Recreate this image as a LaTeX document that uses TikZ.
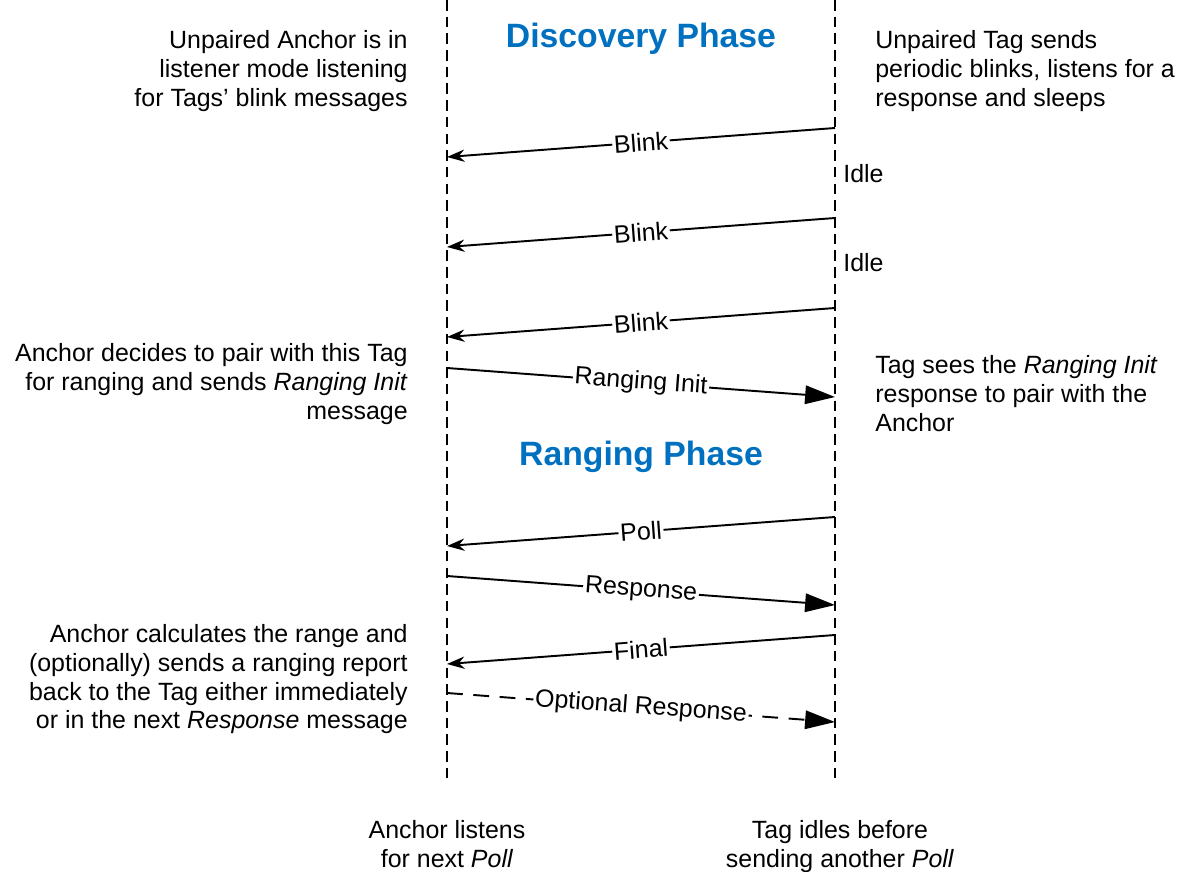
\documentclass[tikz,border=0pt]{standalone}
\usepackage{fontspec}
\setmainfont{Liberation Sans}
\usetikzlibrary{arrows.meta}
\definecolor{phaseblue}{RGB}{0,112,192}

\begin{document}
\begin{tikzpicture}[
  x=0.02cm, y=-0.02cm,
  note/.style={font=\fontsize{14.2}{16.4}\selectfont, inner sep=0pt},
  leftnote/.style={note, align=right, anchor=north east},
  rightnote/.style={note, align=left, anchor=north west},
  phase/.style={font=\fontsize{19.2}{22}\selectfont\bfseries, text=phaseblue},
  lifeline/.style={draw=black, line width=0.6pt, dash pattern=on 6pt off 3.5pt},
  msg/.style={draw=black, line width=1.1pt},
  toanchor/.style={msg, -{Stealth[length=10pt, width=7pt]}},
  totag/.style={msg, -{Triangle[length=17pt, width=10.5pt]}},
  msglabel/.style={note, fill=white, sloped, inner sep=1pt}
]
\useasboundingbox (0,0) rectangle (1187,872);

% --- Lifelines ---
\coordinate (anchortop) at (447,0);
\coordinate (anchorbot) at (447,778);
\coordinate (tagtop) at (835,0);
\coordinate (tagbot) at (835,778);
\draw[lifeline] (anchortop) -- (anchorbot);
\draw[lifeline] (tagtop) -- (tagbot);

% --- Phase titles ---
\node[phase] (discovery) at (641,39) {Discovery Phase};
\node[phase] (ranging) at (641,457) {Ranging Phase};

% --- Side notes ---
\node[leftnote] (anchornote) at (408,30)
  {Unpaired Anchor is in\\listener mode listening\\for Tags’ blink messages};
\node[rightnote] (tagnote) at (875,30)
  {Unpaired Tag sends\\periodic blinks, listens for a\\response and sleeps};
\node[leftnote] (pairnote) at (408,343)
  {Anchor decides to pair with this Tag\\for ranging and sends \textit{Ranging Init}\\message};
\node[rightnote] (seenote) at (875,355)
  {Tag sees the \textit{Ranging Init}\\response to pair with the\\Anchor};
\node[leftnote] (calcnote) at (408,624)
  {Anchor calculates the range and\\(optionally) sends a ranging report\\back to the Tag either immediately\\or in the next \textit{Response} message};

\node[note, anchor=west] (idle1) at (843,174) {Idle};
\node[note, anchor=west] (idle2) at (843,263) {Idle};

% --- Message end points ---
\coordinate (t1) at (835,128); \coordinate (a1) at (447,157);
\coordinate (t2) at (835,218); \coordinate (a2) at (447,247);
\coordinate (t3) at (835,308); \coordinate (a3) at (447,337);
\coordinate (a4) at (447,368); \coordinate (t4) at (835,397);
\coordinate (t5) at (835,517); \coordinate (a5) at (447,546);
\coordinate (a6) at (447,576); \coordinate (t6) at (835,605);
\coordinate (t7) at (835,635); \coordinate (a7) at (447,664);
\coordinate (a8) at (447,693); \coordinate (t8) at (835,722);

% --- Discovery messages ---
\draw[toanchor] (t1) -- node[msglabel] {Blink} (a1);
\draw[toanchor] (t2) -- node[msglabel] {Blink} (a2);
\draw[toanchor] (t3) -- node[msglabel] {Blink} (a3);
\draw[totag] (a4) -- node[msglabel] {Ranging Init} (t4);

% --- Ranging messages ---
\draw[toanchor] (t5) -- node[msglabel] {Poll} (a5);
\draw[totag] (a6) -- node[msglabel] {Response} (t6);
\draw[toanchor] (t7) -- node[msglabel] {Final} (a7);
\draw[totag, dash pattern=on 9pt off 6pt] (a8) -- node[msglabel] {Optional Response} (t8);

% --- Bottom notes ---
\node[note, align=center, anchor=north] (listennote) at (447,820)
  {Anchor listens\\for next \textit{Poll}};
\node[note, align=center, anchor=north] (idlenote) at (840,820)
  {Tag idles before\\sending another \textit{Poll}};

\end{tikzpicture}
\end{document}
